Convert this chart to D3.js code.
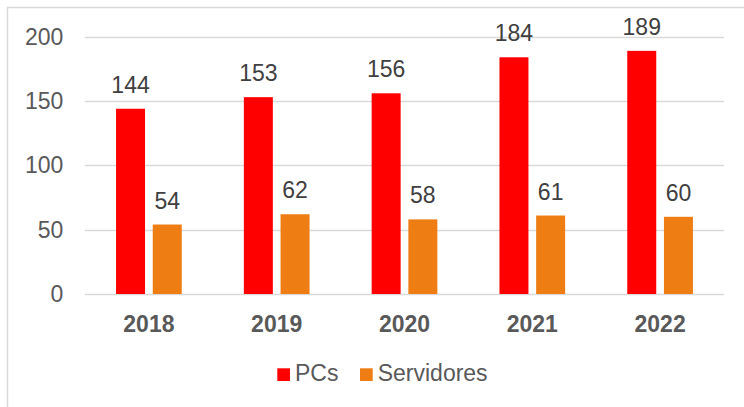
<!DOCTYPE html>
<html><head><meta charset="utf-8">
<script src="https://cdn.jsdelivr.net/npm/d3@7"></script>
<style>body{margin:0;background:#fff}svg{display:block}text{font-family:"Liberation Sans",Arial,sans-serif}</style>
</head><body>
<svg id="c" width="744" height="407"></svg>
<script>
const categories = ["2018","2019","2020","2021","2022"];
const seriesNames = ["PCs","Servidores"];
const pcs = [144,153,156,184,189];
const servidores = [54,62,58,61,60];
const yTicks = [0,50,100,150,200];
const colors = ["#ff0000","#ee7d14"];

const svg = d3.select("#c");
svg.append("rect").attr("x",7.5).attr("y",7.5).attr("width",760).attr("height",420)
  .attr("fill","none").attr("stroke","#d9d9d9").attr("stroke-width",1.5);

const pLeft = 85, pRight = 724, pTop = 36.7, pBottom = 294;
const y = d3.scaleLinear().domain([0,200]).range([pBottom, pTop]);
const x0 = d3.scaleBand().domain(categories).range([pLeft,pRight]).paddingInner(0.486).paddingOuter(0.243);
const x1 = d3.scaleBand().domain(seriesNames).range([0, x0.bandwidth()]).paddingInner(0.21);

// gridlines
svg.append("g").selectAll("line").data(yTicks).join("line")
  .attr("x1",pLeft).attr("x2",pRight)
  .attr("y1",d=>Math.round(y(d))+0.5).attr("y2",d=>Math.round(y(d))+0.5)
  .attr("stroke","#d9d9d9").attr("stroke-width",1.5);

// y axis labels
const yAxis = d3.axisLeft(y).tickValues(yTicks).tickSize(0).tickPadding(21.7);
const ga = svg.append("g").attr("transform",`translate(${pLeft},0)`).call(yAxis);
ga.select(".domain").remove();
ga.selectAll("text").attr("font-size",23).attr("fill","#595959").attr("font-family","Liberation Sans, Arial, sans-serif");

// x axis labels
const xAxis = d3.axisBottom(x0).tickSize(0).tickPadding(0);
const gx = svg.append("g").attr("transform",`translate(0,${pBottom})`).call(xAxis);
gx.select(".domain").remove();
gx.selectAll("text").attr("font-size",23).attr("font-weight","bold").attr("fill","#595959")
  .attr("dy",null).attr("y",37.7).attr("font-family","Liberation Sans, Arial, sans-serif");

const data = categories.map((c,i)=>({cat:c, vals:[pcs[i], servidores[i]]}));
const groups = svg.append("g").selectAll("g").data(data).join("g")
  .attr("transform",d=>`translate(${x0(d.cat)},0)`);
groups.selectAll("rect").data(d=>d.vals.map((v,j)=>({name:seriesNames[j],v,j}))).join("rect")
  .attr("x",d=>x1(d.name)).attr("width",x1.bandwidth())
  .attr("y",d=>y(d.v)).attr("height",d=>pBottom - y(d.v))
  .attr("fill",d=>colors[d.j]);
groups.selectAll("text").data(d=>d.vals.map((v,j)=>({name:seriesNames[j],v,j}))).join("text")
  .attr("x",d=>x1(d.name)+x1.bandwidth()/2).attr("y",d=>y(d.v)-16)
  .attr("text-anchor","middle").attr("font-size",23).attr("fill","#404040").text(d=>d.v);

// legend
const legend = svg.append("g");
const legX = [277.3, 360];
seriesNames.forEach((s,i)=>{
  legend.append("rect").attr("x",legX[i]).attr("y",368.3).attr("width",12.7).attr("height",12.7).attr("fill",colors[i]);
  legend.append("text").attr("x",legX[i]+17.7).attr("y",380.7).attr("font-size",23).attr("fill","#595959").text(s);
});
</script>
</body></html>
